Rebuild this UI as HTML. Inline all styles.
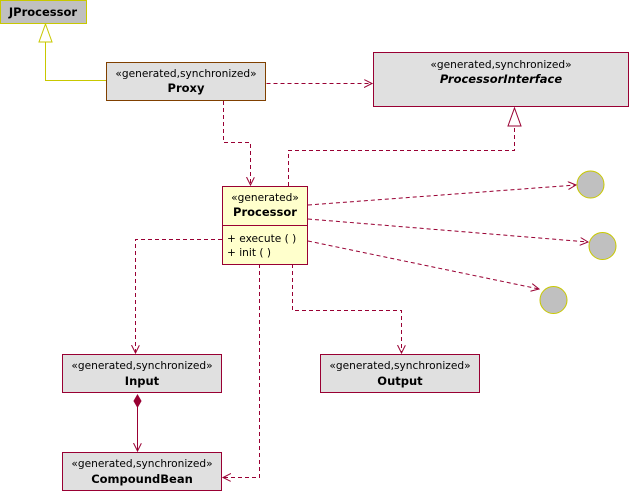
<!DOCTYPE html>
<html><head><meta charset="utf-8"><style>
html,body{margin:0;padding:0;background:#fff;width:633px;height:491px;overflow:hidden}
text{font-family:"DejaVu Sans","Liberation Sans",sans-serif;font-size:10.6px;fill:#000}
.b{font-weight:bold;font-size:11.5px}
</style></head><body>
<svg width="633" height="491" viewBox="0 0 633 491" xmlns="http://www.w3.org/2000/svg">
<defs>
<marker id="oa" markerWidth="10" markerHeight="10" refX="8" refY="4" orient="auto" markerUnits="userSpaceOnUse">
<path d="M0,0 L8,4 L0,8" fill="none" stroke="#990033" stroke-width="1"/></marker>
</defs>
<g fill="none" stroke="#990033" stroke-width="1" stroke-dasharray="4,3">
<path d="M266.5,83.5 H372" marker-end="url(#oa)"/>
<path d="M223.5,101 V142.5 H250.5 V185" marker-end="url(#oa)"/>
<path d="M288.5,186 V150.5 H514.5 V126"/>
<path d="M308,205 L576,185" marker-end="url(#oa)"/>
<path d="M308,219 L588,242" marker-end="url(#oa)"/>
<path d="M308,241 L539,289" marker-end="url(#oa)"/>
<path d="M222,239.5 H135.5 V353" marker-end="url(#oa)"/>
<path d="M259.5,264 V477.5 H223" marker-end="url(#oa)"/>
<path d="M292.5,264 V310.5 H401.5 V353" marker-end="url(#oa)"/>
</g>
<path d="M514.5,108 L521,126 L508,126 Z" fill="#fff" stroke="#990033"/>
<path d="M137.5,407 V451" stroke="#990033" fill="none" marker-end="url(#oa)"/>
<path d="M137.5,395 L141,401 L137.5,407 L134,401 Z" fill="#990033" stroke="#990033"/>
<path d="M45.5,42 V80.5 H107" stroke="#c8c800" fill="none"/>
<path d="M45.5,24 L52,42 L39,42 Z" fill="#fff" stroke="#c8c800"/>

<rect x="0.5" y="0.5" width="86" height="23" fill="#c0c0c0" stroke="#c8c800"/>
<text x="43" y="16" text-anchor="middle" class="b">JProcessor</text>

<rect x="106.5" y="62.5" width="159" height="38" fill="#e0e0e0" stroke="#804000"/>
<text x="186" y="77" text-anchor="middle">«generated,synchronized»</text>
<text x="186" y="92" text-anchor="middle" class="b">Proxy</text>

<rect x="373.5" y="52.5" width="255" height="54" fill="#e0e0e0" stroke="#990033"/>
<text x="501" y="68" text-anchor="middle">«generated,synchronized»</text>
<text x="501" y="83" text-anchor="middle" class="b" font-style="italic">ProcessorInterface</text>

<rect x="222.5" y="186.5" width="85" height="78" fill="#ffffcc" stroke="#990033"/>
<line x1="222.5" y1="225.5" x2="307.5" y2="225.5" stroke="#990033"/>
<text x="265" y="201" text-anchor="middle">«generated»</text>
<text x="265" y="216" text-anchor="middle" class="b">Processor</text>
<text x="227" y="242">+ execute (  )</text>
<text x="227" y="256">+ init (  )</text>

<rect x="62.5" y="354.5" width="159" height="38" fill="#e0e0e0" stroke="#990033"/>
<text x="142" y="369" text-anchor="middle">«generated,synchronized»</text>
<text x="142" y="385" text-anchor="middle" class="b">Input</text>

<rect x="62.5" y="452.5" width="159" height="38" fill="#e0e0e0" stroke="#990033"/>
<text x="142" y="467" text-anchor="middle">«generated,synchronized»</text>
<text x="142" y="483" text-anchor="middle" class="b">CompoundBean</text>

<rect x="320.5" y="354.5" width="159" height="38" fill="#e0e0e0" stroke="#990033"/>
<text x="400" y="369" text-anchor="middle">«generated,synchronized»</text>
<text x="400" y="385" text-anchor="middle" class="b">Output</text>

<circle cx="590.5" cy="184.5" r="13.5" fill="#c0c0c0" stroke="#c8c800"/>
<circle cx="602.5" cy="246" r="13.5" fill="#c0c0c0" stroke="#c8c800"/>
<circle cx="553.5" cy="300" r="13.5" fill="#c0c0c0" stroke="#c8c800"/>
</svg>
</body></html>
